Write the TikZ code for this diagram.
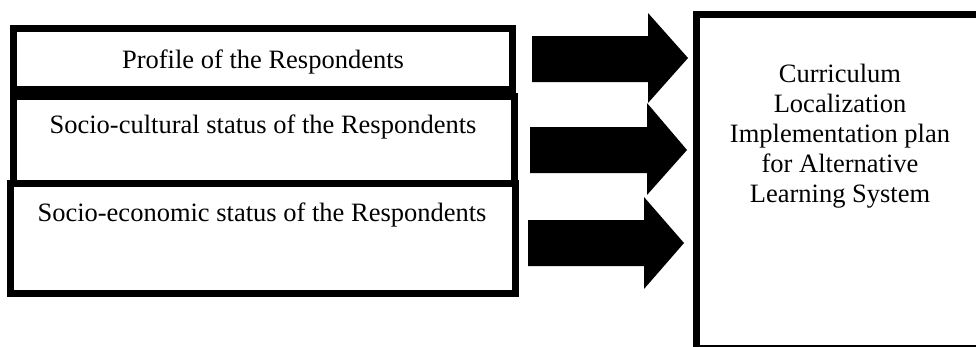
\documentclass[tikz,border=0pt]{standalone}
\usepackage{fontspec}
\setmainfont{Liberation Serif}
\begin{document}
\begin{tikzpicture}[x=1pt,y=-1pt,
  box/.style={draw=black, line width=7pt, rectangle, inner sep=0pt},
  lbl/.style={inner sep=0pt, anchor=base, font=\fontsize{26.5}{30}\selectfont},
  bigarrow/.style={fill=black, draw=none}]
\useasboundingbox (0,0) rectangle (976,346);
\clip (0,0) rectangle (976,346);
% left boxes
\node[box, minimum width=499pt, minimum height=61pt] (b1) at (263,59) {};
\node[box, minimum width=501pt, minimum height=87pt] (b2) at (264,139.5) {};
\node[box, minimum width=504.5pt, minimum height=110pt] (b3) at (262.75,238.5) {};
\node[lbl] (t1) at (263,68) {Profile of the Respondents};
\node[lbl] (t2) at (263,133) {Socio-cultural status of the Respondents};
\node[lbl] (t3) at (262,221) {Socio-economic status of the Respondents};
% right box (cut off at the right and bottom edges)
\node[box, minimum width=313.5pt, minimum height=334pt] (r) at (853.25,181) {};
\node[inner sep=0pt, anchor=north, align=center, font=\fontsize{26.5}{30}\selectfont] (rt) at (840,64)
  {Curriculum\\Localization\\Implementation plan\\for Alternative\\Learning System};
% arrows
\fill[bigarrow] (532,36) -- (648,36) -- (648,13) -- (688,58) -- (648,103) -- (648,82) -- (532,82) -- cycle;
\fill[bigarrow] (530,127) -- (647,127) -- (647,103) -- (687,150) -- (647,195) -- (647,173) -- (530,173) -- cycle;
\fill[bigarrow] (528,220) -- (644,220) -- (644,197) -- (684,243) -- (644,289) -- (644,266) -- (528,266) -- cycle;
\end{tikzpicture}
\end{document}
